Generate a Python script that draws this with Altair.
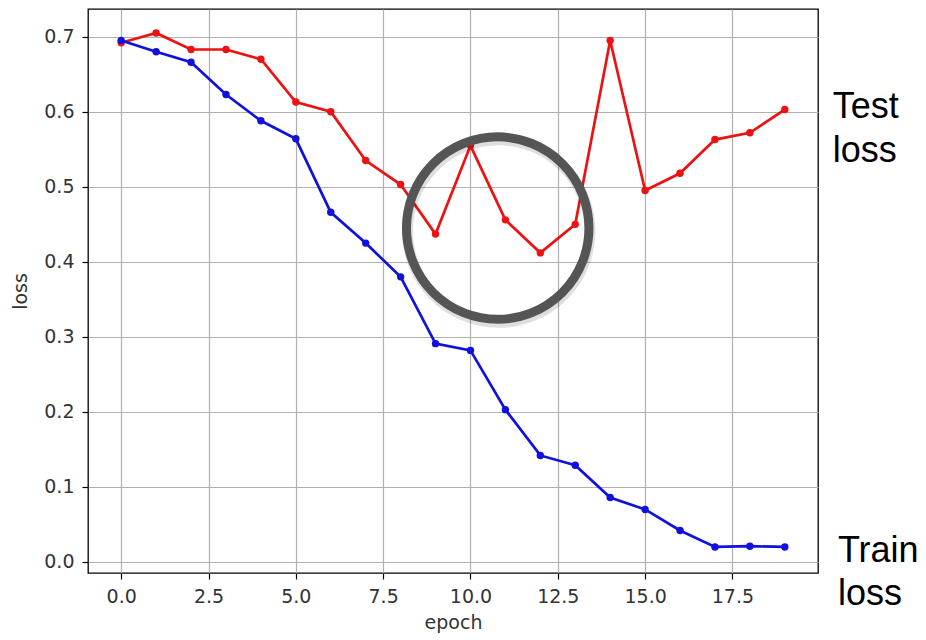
import altair as alt
import pandas as pd

epochs = list(range(20))
train_loss = [0.695, 0.680, 0.666, 0.623, 0.588, 0.564, 0.466, 0.425, 0.380, 0.291,
              0.282, 0.203, 0.142, 0.129, 0.086, 0.070, 0.042, 0.020, 0.021, 0.020]
test_loss = [0.692, 0.705, 0.683, 0.683, 0.670, 0.613, 0.600, 0.535, 0.503, 0.437,
             0.555, 0.456, 0.412, 0.450, 0.695, 0.495, 0.518, 0.563, 0.572, 0.603]

x_ticks = [0, 2.5, 5, 7.5, 10, 12.5, 15, 17.5]
y_ticks = [0.0, 0.1, 0.2, 0.3, 0.4, 0.5, 0.6, 0.7]

# annotation: highlight ring around epochs 9-13 of the test curve
ring_x = [10.78]
ring_y = [0.445]

# side labels
label_text = ["Test", "loss", "Train", "loss"]
label_x = [20.37, 20.37, 20.52, 20.52]
label_y = [0.592, 0.533, 0.0, -0.057]

df_train = pd.DataFrame({"epoch": epochs, "loss": train_loss})
df_test = pd.DataFrame({"epoch": epochs, "loss": test_loss})
df_ring = pd.DataFrame({"epoch": ring_x, "loss": ring_y})
df_lab = pd.DataFrame({"epoch": label_x, "loss": label_y, "text": label_text})

xscale = alt.Scale(domain=[-0.95, 19.95], nice=False, zero=False)
yscale = alt.Scale(domain=[-0.0147, 0.737], nice=False, zero=False)

xaxis = alt.Axis(values=x_ticks, format=".1f", title="epoch", grid=True)
yaxis = alt.Axis(values=y_ticks, format=".1f", title="loss", grid=True)

X = alt.X("epoch:Q", scale=xscale, axis=xaxis)
Y = alt.Y("loss:Q", scale=yscale, axis=yaxis)

def series(df, color):
    line = alt.Chart(df).mark_line(color=color, strokeWidth=2.7).encode(x=X, y=Y)
    pts = alt.Chart(df).mark_point(color=color, filled=True, size=55, opacity=1).encode(x=X, y=Y)
    return line + pts

Xn = alt.X("epoch:Q", scale=xscale)
Yn = alt.Y("loss:Q", scale=yscale)

ring_size = 33300

shadow = alt.Chart(df_ring).mark_point(
    shape="circle", filled=False, size=ring_size, stroke="#000000", strokeWidth=11,
    opacity=0.12, xOffset=1, yOffset=3
).encode(x=Xn, y=Yn)

ring = alt.Chart(df_ring).mark_point(
    shape="circle", filled=False, size=ring_size, stroke="#555555", strokeWidth=9, opacity=1
).encode(x=Xn, y=Yn)

labels = alt.Chart(df_lab).mark_text(
    align="left", baseline="alphabetic", font="Liberation Sans", fontSize=36, color="#000000"
).encode(x=Xn, y=Yn, text="text:N")

chart = alt.layer(
    series(df_test, "#ee1111"),
    series(df_train, "#1111dd"),
    shadow, ring, labels
).properties(
    width=730, height=564,
    autosize=alt.AutoSizeParams(type="none"),
    padding={"left": 80, "top": 1, "right": 100, "bottom": 66},
).configure_view(
    stroke="#000000", strokeWidth=1.3
).configure_axis(
    domain=False,
    gridColor="#b0b0b0", gridWidth=1.2, gridOpacity=1,
    tickColor="#000000", tickSize=6, tickWidth=1.2,
    labelFont="DejaVu Sans", labelFontSize=19, labelColor="#333333",
    titleFont="DejaVu Sans", titleFontSize=19, titleColor="#333333", titleFontWeight="normal",
).configure_axisX(
    labelPadding=8, titlePadding=7
).configure_axisY(
    labelPadding=8, titlePadding=13
)

chart.save("out.html", embed_options={"renderer": "svg", "actions": False})
